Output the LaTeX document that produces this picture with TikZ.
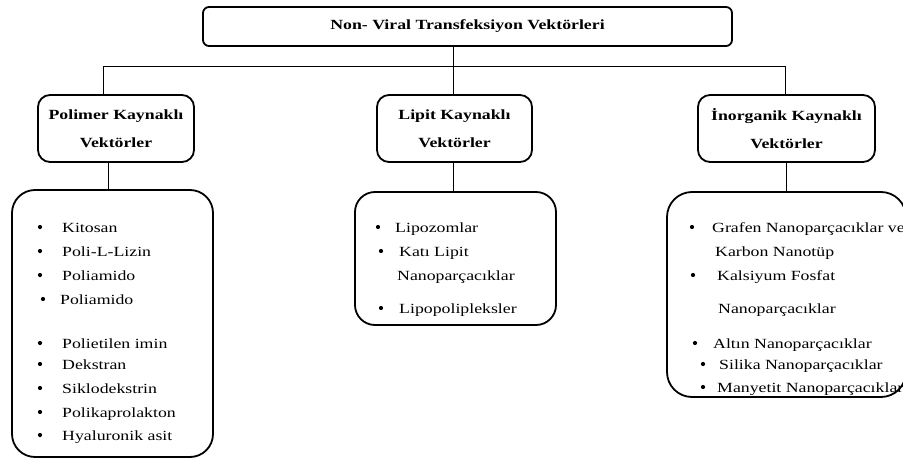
\documentclass[tikz,border=0pt]{standalone}
\usepackage{fontspec}
\setmainfont{Liberation Serif}[FakeStretch=1.27]
\tikzset{
  boxline/.style={draw=black, line width=1.8pt, fill=white},
  topbox/.style={boxline, rounded corners=6pt, font=\fontsize{14}{16}\selectfont\bfseries, inner sep=0pt},
  headbox/.style={boxline, rounded corners=12pt, align=center, inner sep=0pt,
     font=\fontsize{14}{28}\selectfont\bfseries},
  listbox/.style={boxline, rounded corners=23pt, inner sep=0pt},
  conn/.style={draw=black, line width=1pt},
  itm/.style={anchor=base west, inner sep=0pt, font=\fontsize{14}{16}\selectfont},
  blt/.style={fill=black}
}
\begin{document}
\begin{tikzpicture}[x=1pt, y=-1pt]
\useasboundingbox[fill=white] (0,0) rectangle (903,463);

% title
\node[topbox, minimum width=529pt, minimum height=39pt] (top) at (467.5,26.5) {Non- Viral Transfeksiyon Vektörleri};

% headings
\node[headbox, minimum width=156pt, minimum height=67pt] (h1) at (116,128.5) {Polimer Kaynaklı\\Vektörler};
\node[headbox, minimum width=155pt, minimum height=67pt] (h2) at (454.5,128.5) {Lipit Kaynaklı\\Vektörler};
\node[headbox, minimum width=177pt, minimum height=67pt] (h3) at (786.5,128.5) {İnorganik Kaynaklı\\Vektörler};

% list boxes
\node[listbox, minimum width=201pt, minimum height=267pt] (L1) at (112.5,323.5) {};
\node[listbox, minimum width=201pt, minimum height=133pt, rounded corners=20pt] (L2) at (455.5,258.5) {};
\node[listbox, minimum width=239pt, minimum height=205pt, rounded corners=25pt] (L3) at (786.5,294.5) {};

% connectors
\coordinate (j) at (453,66);
\coordinate (jl) at (103,66);
\coordinate (jr) at (785,66);
\draw[conn] (top.south -| j) -- (j);
\draw[conn] (jl) -- (jr);
\draw[conn] (jl) -- (jl |- h1.north);
\draw[conn] (j) -- (j |- h2.north);
\draw[conn] (jr) -- (jr |- h3.north);
\draw[conn] ([xshift=-8pt]h1.south) -- ([xshift=-8pt]h1.south |- L1.north);
\draw[conn] ([xshift=-1.5pt]h2.south) -- ([xshift=-1.5pt]h2.south |- L2.north);
\draw[conn] (h3.south) -- (h3.south |- L3.north);

% left list
\foreach \y in {227,251,275,343,364,388,412,435} \fill[blt] (40,\y) circle (2.1pt);
\fill[blt] (43,299) circle (2.1pt);
\node[itm] (a1) at (62,232) {Kitosan};
\node[itm] (a2) at (62,256) {Poli-L-Lizin};
\node[itm] (a3) at (62,280) {Poliamido};
\node[itm] (a4) at (60,304) {Poliamido};
\node[itm] (a5) at (62,348) {Polietilen imin};
\node[itm] (a6) at (62,369) {Dekstran};
\node[itm] (a7) at (62,393) {Siklodekstrin};
\node[itm] (a8) at (62,417) {Polikaprolakton};
\node[itm] (a9) at (62,440) {Hyaluronik asit};

% middle list
\fill[blt] (378,227) circle (2.1pt);
\fill[blt] (381,251) circle (2.1pt);
\fill[blt] (381,308) circle (2.1pt);
\node[itm] (b1) at (395,232) {Lipozomlar};
\node[itm] (b2) at (399,256) {Katı Lipit};
\node[itm] (b3) at (397,280) {Nanoparçacıklar};
\node[itm] (b4) at (399,313) {Lipopolipleksler};

% right list
\fill[blt] (692,227) circle (2.1pt);
\fill[blt] (693,275) circle (2.1pt);
\fill[blt] (695,343) circle (2.1pt);
\fill[blt] (703,364) circle (2.1pt);
\fill[blt] (703,387) circle (2.1pt);
\node[itm] (c1) at (712,232) {Grafen Nanoparçacıklar ve};
\node[itm] (c2) at (715,256) {Karbon Nanotüp};
\node[itm] (c3) at (717,280) {Kalsiyum Fosfat};
\node[itm] (c4) at (718,313) {Nanoparçacıklar};
\node[itm] (c5) at (713,348) {Altın Nanoparçacıklar};
\node[itm] (c6) at (719,369) {Silika Nanoparçacıklar};
\node[itm] (c7) at (717,392) {Manyetit Nanoparçacıklar};
\end{tikzpicture}
\end{document}
